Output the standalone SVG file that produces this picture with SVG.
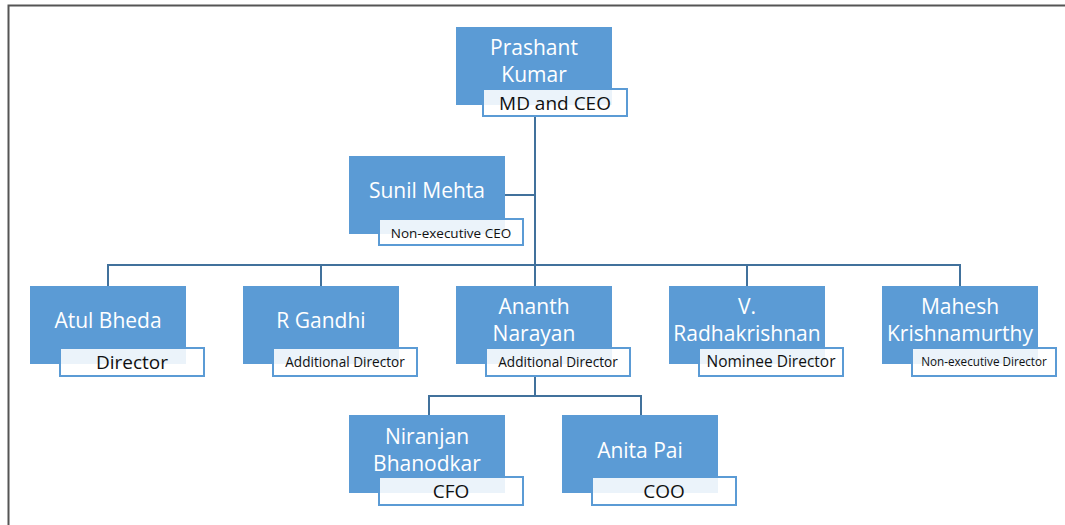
<svg xmlns="http://www.w3.org/2000/svg" width="1065" height="525" viewBox="0 0 1065 525">
<style>
.box{fill:#5b9bd5;}
.lab{fill:#ffffff;fill-opacity:0.88;stroke:#5b9bd5;stroke-width:2;}
.nm{font-family:"Open Sans","Liberation Sans",sans-serif;font-size:21px;fill:#ffffff;text-anchor:middle;}
.lt{font-family:"Open Sans","Liberation Sans",sans-serif;fill:#111111;text-anchor:middle;}
.con{fill:none;stroke:#41719c;stroke-width:2;}
</style>
<rect width="1065" height="525" fill="#ffffff"/>
<path d="M8.5,525 V5.5 H1065" fill="none" stroke="#555555" stroke-width="2"/>
<g id="connectors">
<path class="con" d="M535,116 V265 M505,195 H535 M108,286 V265 H960 V286 M321,265 V286 M535,265 V286 M747,265 V286 M535,376 V396 M429,415 V396 H641 V415"/>
</g>
<g id="prashant">
<rect class="box" x="456" y="27" width="156" height="78"/>
<text class="nm" x="534" y="55">Prashant</text>
<text class="nm" x="534" y="82">Kumar</text>
<rect class="lab" x="483" y="89" width="144" height="27"/>
<text class="lt" x="555" y="110" font-size="19">MD and CEO</text>
</g>
<g id="sunil">
<rect class="box" x="349" y="156" width="156" height="78"/>
<text class="nm" x="427" y="198">Sunil Mehta</text>
<rect class="lab" x="379" y="219" width="144" height="26"/>
<text class="lt" x="451" y="238" font-size="13.5">Non-executive CEO</text>
</g>
<g id="atul">
<rect class="box" x="30" y="286" width="156" height="78"/>
<text class="nm" x="108" y="328">Atul Bheda</text>
<rect class="lab" x="60" y="348" width="144" height="28"/>
<text class="lt" x="132" y="369" font-size="19">Director</text>
</g>
<g id="rgandhi">
<rect class="box" x="243" y="286" width="156" height="78"/>
<text class="nm" x="321" y="328">R Gandhi</text>
<rect class="lab" x="273" y="348" width="144" height="28"/>
<text class="lt" x="345" y="367" font-size="13.6">Additional Director</text>
</g>
<g id="ananth">
<rect class="box" x="456" y="286" width="156" height="78"/>
<text class="nm" x="534" y="314">Ananth</text>
<text class="nm" x="534" y="341">Narayan</text>
<rect class="lab" x="486" y="348" width="144" height="28"/>
<text class="lt" x="558" y="367" font-size="13.6">Additional Director</text>
</g>
<g id="radhakrishnan">
<rect class="box" x="669" y="286" width="156" height="78"/>
<text class="nm" x="747" y="314">V.</text>
<text class="nm" x="747" y="341">Radhakrishnan</text>
<rect class="lab" x="699" y="348" width="144" height="28"/>
<text class="lt" x="771" y="367" font-size="15.5">Nominee Director</text>
</g>
<g id="mahesh">
<rect class="box" x="882" y="286" width="156" height="78"/>
<text class="nm" x="960" y="314">Mahesh</text>
<text class="nm" x="960" y="341">Krishnamurthy</text>
<rect class="lab" x="912" y="348" width="144" height="28"/>
<text class="lt" x="984" y="366" font-size="11.7">Non-executive Director</text>
</g>
<g id="niranjan">
<rect class="box" x="349" y="415" width="156" height="78"/>
<text class="nm" x="427" y="444">Niranjan</text>
<text class="nm" x="427" y="471">Bhanodkar</text>
<rect class="lab" x="379" y="477" width="144" height="28"/>
<text class="lt" x="451" y="498" font-size="19">CFO</text>
</g>
<g id="anita">
<rect class="box" x="562" y="415" width="156" height="78"/>
<text class="nm" x="640" y="458">Anita Pai</text>
<rect class="lab" x="592" y="477" width="144" height="28"/>
<text class="lt" x="664" y="498" font-size="19">COO</text>
</g>
</svg>
